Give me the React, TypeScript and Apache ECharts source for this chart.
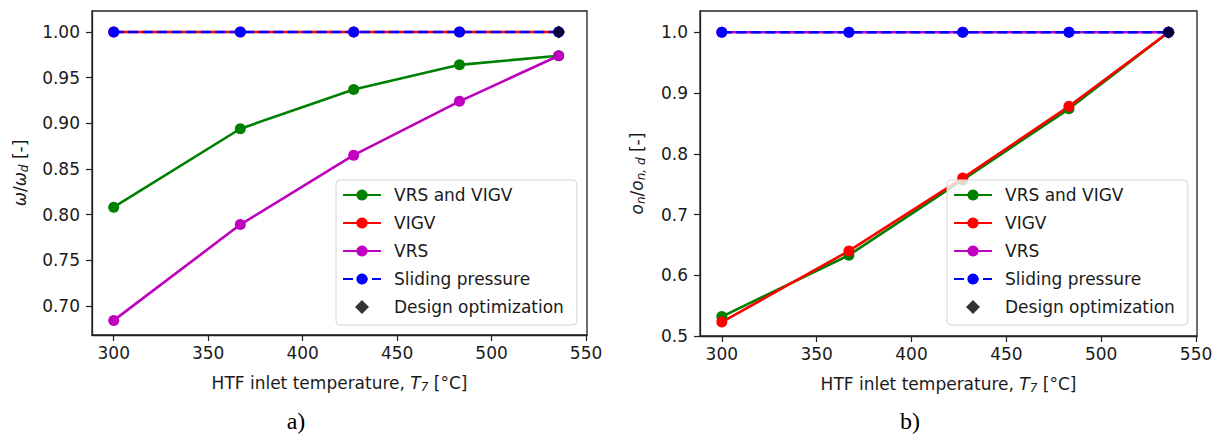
import React, { useEffect, useRef } from "react";
import * as echarts from "echarts";

const temps = [300, 367, 427, 483, 535.5];
const xTicks = [300, 350, 400, 450, 500, 550];

// panel a) omega / omega_d
const omegaBoth = [0.808, 0.894, 0.937, 0.964, 0.974];
const omegaVIGV = [1.0, 1.0, 1.0, 1.0, 1.0];
const omegaVRS = [0.684, 0.789, 0.865, 0.924, 0.974];
const omegaSliding = [1.0, 1.0, 1.0, 1.0, 1.0];
const omegaTicks = [0.7, 0.75, 0.8, 0.85, 0.9, 0.95, 1.0];

// panel b) o_n / o_n,d
const openBoth = [0.532, 0.633, 0.757, 0.874, 1.0];
const openVIGV = [0.523, 0.64, 0.76, 0.878, 1.0];
const openVRS = [1.0, 1.0, 1.0, 1.0, 1.0];
const openSliding = [1.0, 1.0, 1.0, 1.0, 1.0];
const openTicks = [0.5, 0.6, 0.7, 0.8, 0.9, 1.0];

const designT = [535.5];
const designOmega = [1.0];
const designOpen = [1.0];

const names = ["VRS and VIGV", "VIGV", "VRS", "Sliding pressure", "Design optimization"];
const colors = ["#008000", "#ff0000", "#bf00bf", "#0000ff", "#000000"];

const FONT = "DejaVu Sans";
const TXT = "#1a1a1a";

const pairs = (xs: number[], ys: number[]) => xs.map((x, i) => [x, ys[i]]);

export default function App() {
  const ref = useRef<HTMLDivElement>(null);
  useEffect(() => {
    if (!ref.current) return;
    const chart = echarts.init(ref.current, undefined, { renderer: "svg" });

    const rich = {
      it: { fontStyle: "italic", fontSize: 17, fontFamily: FONT, color: TXT },
      n: { fontSize: 17, fontFamily: FONT, color: TXT },
      sub: { fontStyle: "italic", fontSize: 12, fontFamily: FONT, color: TXT, padding: [9, 0, 0, 0] },
    };

    const xAxisBase = (gridIndex: number) => ({
      type: "value",
      gridIndex,
      min: 288.5,
      max: 550.5,
      axisLine: { show: true, onZero: false, lineStyle: { color: "#222", width: 1.3 } },
      axisTick: { show: true, length: 6, customValues: xTicks, lineStyle: { color: "#222", width: 1.2 } },
      axisLabel: { customValues: xTicks, fontSize: 17, fontFamily: FONT, color: TXT, margin: 9 },
      splitLine: { show: false },
      name: "{n|HTF inlet temperature, }{it|T}{sub|7}{n| [°C]}",
      nameLocation: "middle",
      nameGap: 37,
      nameTextStyle: { rich },
    });

    const yAxisBase = (gridIndex: number, min: number, max: number, ticks: number[], dec: number, name: string, gap: number) => ({
      type: "value",
      gridIndex,
      min,
      max,
      axisLine: { show: true, onZero: false, lineStyle: { color: "#222", width: 1.3 } },
      axisTick: { show: true, length: 6, customValues: ticks, lineStyle: { color: "#222", width: 1.2 } },
      axisLabel: {
        customValues: ticks,
        fontSize: 17,
        fontFamily: FONT,
        color: TXT,
        margin: 12,
        formatter: (v: number) => v.toFixed(dec),
      },
      splitLine: { show: false },
      name,
      nameLocation: "middle",
      nameGap: gap,
      nameTextStyle: { rich },
    });

    const lineSeries = (name: string, color: string, xi: number, ys: number[], dashed = false) => ({
      type: "line",
      name,
      xAxisIndex: xi,
      yAxisIndex: xi,
      data: pairs(temps, ys),
      symbol: "circle",
      symbolSize: 11,
      color,
      itemStyle: { color },
      lineStyle: { color, width: 2.6, type: dashed ? [10, 4.5] : "solid" },
      emphasis: { disabled: true },
    });

    const designSeries = (xi: number, ys: number[]) => ({
      type: "scatter",
      name: names[4],
      xAxisIndex: xi,
      yAxisIndex: xi,
      data: pairs(designT, ys),
      symbol: "diamond",
      symbolSize: 13,
      itemStyle: { color: "#000" },
      color: "#000",
      emphasis: { disabled: true },
      z: 5,
    });

    const legendData = [
      names[0],
      names[1],
      names[2],
      names[3],
      { name: names[4], icon: "path://M0,-6 L6,0 L0,6 L-6,0 Z", itemStyle: { color: "#000" } },
    ];

    const legendBase = (left: number) => ({
      orient: "vertical",
      left,
      top: 180,
      data: legendData,
      itemWidth: 38,
      itemHeight: 14,
      itemGap: 8,
      symbolKeepAspect: true,
      padding: [5, 13, 8, 6],
      backgroundColor: "rgba(255,255,255,0.8)",
      borderColor: "#d4d4d4",
      borderWidth: 1,
      borderRadius: 4,
      selectedMode: false,
      textStyle: { fontSize: 17, fontFamily: FONT, color: TXT, lineHeight: 20, padding: [0, 0, 0, 8] },
    });

    chart.setOption({
      animation: false,
      backgroundColor: "#ffffff",
      grid: [
        { left: 92, top: 11, width: 495, height: 324, show: true, borderColor: "#222", borderWidth: 1.3, backgroundColor: "transparent" },
        { left: 700, top: 11, width: 497, height: 325, show: true, borderColor: "#222", borderWidth: 1.3, backgroundColor: "transparent" },
      ],
      xAxis: [xAxisBase(0), xAxisBase(1)],
      yAxis: [
        yAxisBase(0, 0.668, 1.023, omegaTicks, 2, "{it|ω}{n|/}{it|ω}{sub|d}{n| [-]}", 62),
        yAxisBase(1, 0.5, 1.035, openTicks, 1, "{it|o}{sub|n}{n|/}{it|o}{sub|n, d}{n| [-]}", 53),
      ],
      legend: [legendBase(336), legendBase(947)],
      series: [
        lineSeries(names[0], colors[0], 0, omegaBoth),
        lineSeries(names[1], colors[1], 0, omegaVIGV),
        lineSeries(names[2], colors[2], 0, omegaVRS),
        lineSeries(names[3], colors[3], 0, omegaSliding, true),
        designSeries(0, designOmega),
        lineSeries(names[0], colors[0], 1, openBoth),
        lineSeries(names[1], colors[1], 1, openVIGV),
        lineSeries(names[2], colors[2], 1, openVRS),
        lineSeries(names[3], colors[3], 1, openSliding, true),
        designSeries(1, designOpen),
      ],
      graphic: [
        {
          type: "text",
          x: 296,
          y: 421,
          style: { text: "a)", fontSize: 24, fontFamily: "Liberation Serif", fill: "#000", align: "center", verticalAlign: "middle" },
        },
        {
          type: "text",
          x: 910,
          y: 421,
          style: { text: "b)", fontSize: 24, fontFamily: "Liberation Serif", fill: "#000", align: "center", verticalAlign: "middle" },
        },
      ],
    });
    return () => chart.dispose();
  }, []);
  return <div ref={ref} style={{ position: "absolute", left: 0, top: 0, width: 1220, height: 442 }} />;
}
